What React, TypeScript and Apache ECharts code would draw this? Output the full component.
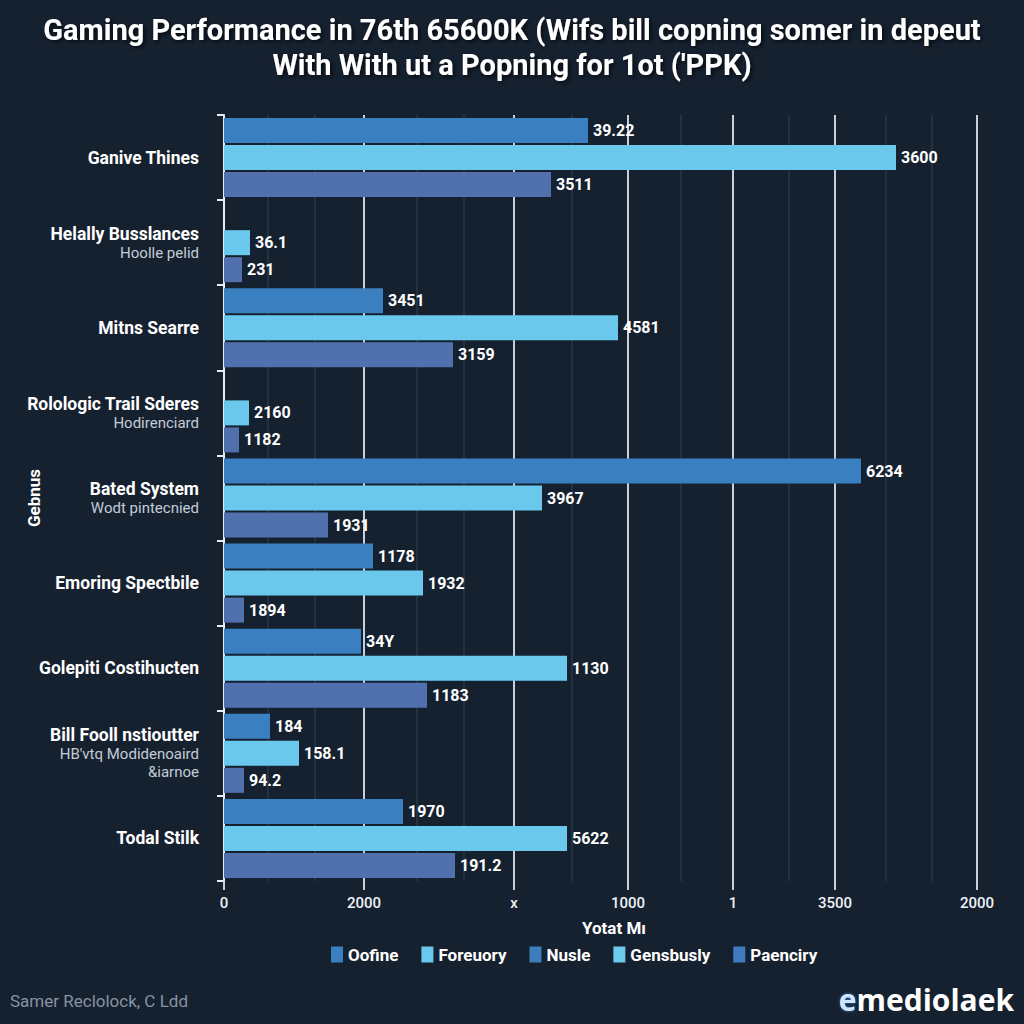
import React, { useEffect, useRef } from "react";
import * as echarts from "echarts";

// Categories (main line + optional sub lines)
const categoryMain = [
  "Ganive Thines",
  "Helally Busslances",
  "Mitns Searre",
  "Rolologic Trail Sderes",
  "Bated System",
  "Emoring Spectbile",
  "Golepiti Costihucten",
  "Bill Fooll nstioutter",
  "Todal Stilk",
];
const categorySub = [
  "",
  "Hoolle pelid",
  "",
  "Hodirenciard",
  "Wodt pintecnied",
  "",
  "",
  "HB'vtq Modidenoaird\n&iarnoe",
  "",
];

// Series names
const seriesNames = ["Oofine", "Foreuory", "Nusle", "Gensbusly", "Paenciry"];

// Bar lengths (axis units)
const oofineValues = [3640, 0, 1590, 0, 6370, 1490, 1370, 460, 1790];
const foreuoryValues = [6720, 260, 3940, 250, 3180, 1990, 3430, 750, 3430];
const paenciryValues = [3270, 180, 2290, 150, 1040, 200, 2030, 200, 2310];

// Bar value labels as printed
const oofineLabels = ["39.22", "", "3451", "", "6234", "1178", "34Y", "184", "1970"];
const foreuoryLabels = ["3600", "36.1", "4581", "2160", "3967", "1932", "1130", "158.1", "5622"];
const paenciryLabels = ["3511", "231", "3159", "1182", "1931", "1894", "1183", "94.2", "191.2"];

// X axis ticks (positions in axis units) and their printed labels
const xMax = 7800;
const majorTickValues = [0, 1400, 2900, 4040, 5090, 6110, 7530];
const majorTickLabels = ["0", "2000", "x", "1000", "1", "3500", "2000"];
const minorTickValues = [440, 910, 1930, 2400, 3480, 4570, 5650, 6620, 7080];

const titleText =
  "Gaming Performance in 76th 65600K (Wifs bill copning somer in depeut\nWith With ut a Popning for 1ot ('PPK)";
const xAxisName = "Yotat Mı";
const yAxisName = "Gebnus";
const footerLeft = "Samer Reclolock, C Ldd";
const footerRight = "mediolaek";

const COLORS = {
  bg: "#162130",
  dark: "#3a7fc0",
  cyan: "#69c8ec",
  slate: "#5170ae",
};

export default function App() {
  const ref = useRef<HTMLDivElement>(null);

  useEffect(() => {
    if (!ref.current) return;
    const chart = echarts.init(ref.current, null, { renderer: "svg" });

    const font = "Roboto";

    const labelStyle = {
      show: true,
      position: "right" as const,
      distance: 5,
      color: "#ffffff",
      fontFamily: font,
      fontWeight: "bold" as const,
      fontSize: 16,
    };

    const option: any = {
      animation: false,
      backgroundColor: COLORS.bg,
      textStyle: { fontFamily: font },
      title: {
        text: titleText,
        left: "center",
        top: 7,
        textStyle: {
          color: "#ffffff",
          fontFamily: font,
          fontWeight: "bold",
          fontSize: 29,
          lineHeight: 35,
          textShadowColor: "rgba(0,0,0,0.7)",
          textShadowBlur: 4,
          textShadowOffsetX: 2,
          textShadowOffsetY: 2,
        },
      },
      legend: {
        left: 326,
        top: 941,
        icon: "rect",
        itemWidth: 12,
        itemHeight: 16,
        itemGap: 23,
        textStyle: {
          color: "#ffffff",
          fontFamily: font,
          fontWeight: "bold",
          fontSize: 17,
        },
        data: [
          { name: seriesNames[0] },
          { name: seriesNames[1] },
          { name: seriesNames[2] },
          { name: seriesNames[3] },
          { name: seriesNames[4], itemStyle: { color: "#3e7cbf" } },
        ],
      },
      grid: {
        left: 224,
        right: 20,
        top: 115,
        bottom: 143,
        containLabel: false,
        outerBoundsMode: "none",
      },
      xAxis: [
        {
          type: "value",
          min: 0,
          max: xMax,
          position: "bottom",
          name: xAxisName,
          nameLocation: "middle",
          nameGap: 38,
          nameMoveOverlap: false,
          nameTextStyle: {
            color: "#ffffff",
            fontFamily: font,
            fontWeight: "bold",
            fontSize: 17,
          },
          axisLine: { show: false },
          axisTick: {
            show: true,
            length: 9,
            customValues: majorTickValues,
            lineStyle: { color: "#c7d0da", width: 2 },
          },
          axisLabel: {
            customValues: majorTickValues,
            color: "#eef2f6",
            fontFamily: font,
            fontSize: 15,
            fontWeight: 500,
            margin: 14,
            formatter: (v: number) => {
              const i = majorTickValues.indexOf(v);
              return i >= 0 ? majorTickLabels[i] : "";
            },
          },
          splitLine: {
            show: true,
            lineStyle: { color: "#c7d0da", width: 2 },
          },
        },
        {
          type: "value",
          min: 0,
          max: xMax,
          position: "top",
          axisLine: { show: false },
          axisTick: { show: false, customValues: minorTickValues },
          axisLabel: { show: false, customValues: minorTickValues },
          splitLine: {
            show: true,
            lineStyle: { color: "#27384a", width: 1.5 },
          },
        },
      ],
      yAxis: {
        type: "category",
        inverse: true,
        data: categoryMain,
        name: yAxisName,
        nameLocation: "middle",
        nameGap: 182,
        nameMoveOverlap: false,
        nameTextStyle: {
          color: "#ffffff",
          fontFamily: font,
          fontWeight: "bold",
          fontSize: 17,
        },
        axisLine: { show: true, lineStyle: { color: "#e6ecf2", width: 2 } },
        axisTick: {
          show: true,
          length: 7,
          lineStyle: { color: "#e6ecf2", width: 2 },
        },
        axisLabel: {
          margin: 25,
          align: "right",
          formatter: (v: string, idx: number) => {
            const sub = categorySub[idx];
            if (!sub) return `{b|${v}}`;
            const subLines = sub
              .split("\n")
              .map((s) => `{s|${s}}`)
              .join("\n");
            return `{b|${v}}\n${subLines}`;
          },
          rich: {
            b: {
              color: "#ffffff",
              fontFamily: font,
              fontWeight: "bold",
              fontSize: 17.5,
              lineHeight: 20,
              align: "right",
            },
            s: {
              color: "#c3ccd7",
              fontFamily: font,
              fontSize: 15,
              lineHeight: 18,
              align: "right",
            },
          },
        },
        splitLine: { show: false },
      },
      series: [
        {
          name: seriesNames[0],
          type: "bar",
          data: oofineValues,
          barWidth: 25,
          barGap: "8%",
          itemStyle: { color: COLORS.dark },
          label: {
            ...labelStyle,
            formatter: (p: any) => oofineLabels[p.dataIndex],
          },
        },
        {
          name: seriesNames[1],
          type: "bar",
          data: foreuoryValues,
          barWidth: 25,
          barGap: "8%",
          itemStyle: { color: COLORS.cyan },
          label: {
            ...labelStyle,
            formatter: (p: any) => foreuoryLabels[p.dataIndex],
          },
        },
        {
          name: seriesNames[2],
          type: "line",
          data: [],
          itemStyle: { color: "#3c7dbd" },
        },
        {
          name: seriesNames[3],
          type: "line",
          data: [],
          itemStyle: { color: "#6ccaec" },
        },
        {
          name: seriesNames[4],
          type: "bar",
          data: paenciryValues,
          barWidth: 25,
          barGap: "8%",
          itemStyle: { color: COLORS.slate },
          label: {
            ...labelStyle,
            formatter: (p: any) => paenciryLabels[p.dataIndex],
          },
        },
      ],
      graphic: [
        {
          type: "text",
          left: 10,
          top: 992,
          style: {
            text: footerLeft,
            fill: "#8593a3",
            font: `17px ${font}`,
          },
        },
        {
          type: "text",
          right: 10,
          top: 984,
          style: {
            text: `{e|e}{m|${footerRight}}`,
            rich: {
              e: {
                fill: "#cfe6fb",
                fontFamily: "Open Sans",
                fontWeight: "bold",
                fontSize: 30,
                textShadowColor: "#2d7cd0",
                textShadowBlur: 3,
              },
              m: {
                fill: "#ffffff",
                fontFamily: "Open Sans",
                fontWeight: "bold",
                fontSize: 30,
              },
            },
          },
        },
      ],
    };

    chart.setOption(option);
    return () => chart.dispose();
  }, []);

  return (
    <div
      ref={ref}
      style={{ position: "fixed", left: 0, top: 0, width: 1024, height: 1024 }}
    />
  );
}
